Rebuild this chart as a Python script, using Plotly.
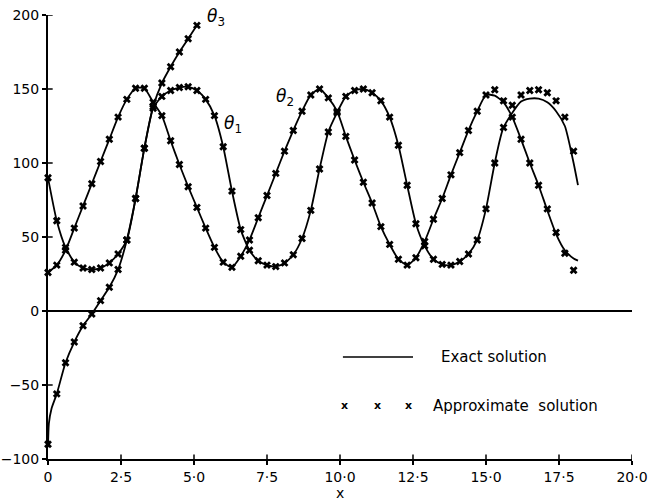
import plotly.graph_objects as go

# ---- data -------------------------------------------------------------
X = [0.0, 0.3, 0.6, 0.9, 1.2, 1.5, 1.8, 2.1, 2.4, 2.7,
     3.0, 3.3, 3.6, 3.9, 4.2, 4.5, 4.8, 5.1, 5.4, 5.7,
     6.0, 6.3, 6.6, 6.9, 7.2, 7.5, 7.8, 8.1, 8.4, 8.7,
     9.0, 9.3, 9.6, 9.9, 10.2, 10.5, 10.8, 11.1, 11.4, 11.7,
     12.0, 12.3, 12.6, 12.9, 13.2, 13.5, 13.8, 14.1, 14.4, 14.7,
     15.0, 15.3, 15.6, 15.9, 16.2, 16.5, 16.8, 17.1, 17.4, 17.7, 18.0]

theta1_approx = [90, 61, 43, 33, 29, 28, 29, 32.5, 38.5, 48,
                 76, 110, 137, 145, 149, 151, 151.5, 149, 143, 132,
                 111, 81, 55, 41, 34, 31, 30, 32.5, 38, 49,
                 68, 96, 121, 134, 145, 149, 150, 147.5, 142, 131,
                 112, 85, 59, 44, 35, 31.5, 31, 33.5, 38.5, 48,
                 69, 100, 124, 139, 146, 149, 149.5, 147.5, 142, 131, 108]

theta2_approx = [26, 31, 41, 56, 71, 86, 101, 116, 131, 143,
                 150.5, 150.5, 141, 132, 115, 99, 84, 70, 56, 43,
                 33, 29.5, 37, 48, 63, 78, 93, 108, 122, 135,
                 146, 150, 144, 135, 118, 102, 87, 73, 57, 45,
                 35, 31, 36, 47, 62, 76, 92, 107, 122, 135,
                 146, 149.5, 142, 131, 116, 100, 85, 69, 53, 39, 27.5]

X3 = [0.0, 0.3, 0.6, 0.9, 1.2, 1.5, 1.8, 2.1, 2.4, 2.7,
      3.0, 3.3, 3.6, 3.9, 4.2, 4.5, 4.8, 5.1]
theta3_approx = [-90, -56, -35, -21, -10, -2, 7, 16, 28, 48,
                 76, 110, 138, 154, 165, 175, 184, 193]

# exact solutions
X1_exact = X[:53] + [16.2, 16.5, 16.8, 17.1, 17.4, 17.7, 18.0, 18.15]
theta1_exact = theta1_approx[:53] + [141.5, 143.5, 143.5, 141, 135, 125, 100, 85]

X2_exact = X[:51] + [15.3, 15.6, 15.9, 16.2, 16.5, 16.8, 17.1, 17.4, 17.7, 18.0, 18.15]
theta2_exact = theta2_approx[:51] + [145.5, 141, 131, 116, 100, 85, 68, 52, 41, 35.5, 34]

X3_exact = [0.0, 0.03, 0.12] + X3[1:]
theta3_exact = [-92, -76, -66] + theta3_approx[1:]

x_ticks = [0, 2.5, 5, 7.5, 10, 12.5, 15, 17.5, 20]
x_tick_text = ["0", "2·5", "5·0", "7·5", "10·0", "12·5", "15·0", "17·5", "20·0"]
y_ticks = [-100, -50, 0, 50, 100, 150, 200]
y_tick_text = ["−100", "−50", "0", "50", "100", "150", "200"]

FONT = "DejaVu Sans"

fig = go.Figure()
line_style = dict(color="black", width=1.8, shape="spline", smoothing=0.6)
mk = dict(symbol="x", size=7, color="black")

for xe, ye in [(X1_exact, theta1_exact), (X2_exact, theta2_exact), (X3_exact, theta3_exact)]:
    fig.add_trace(go.Scatter(x=xe, y=ye, mode="lines", line=line_style,
                             showlegend=False, hoverinfo="skip"))
for xa, ya in [(X, theta1_approx), (X, theta2_approx), (X3, theta3_approx)]:
    fig.add_trace(go.Scatter(x=xa, y=ya, mode="markers", marker=mk,
                             showlegend=False, hoverinfo="skip", cliponaxis=False))

axis_common = dict(showgrid=False, showline=True, linecolor="black", linewidth=2,
                   ticklen=4, tickwidth=1.5, tickcolor="black", automargin=False,
                   ticklabeloverflow="allow",
                   tickfont=dict(family=FONT, size=14, color="black"))

fig.update_layout(
    width=649, height=500,
    margin=dict(l=48, r=17, t=15, b=41),
    paper_bgcolor="white", plot_bgcolor="white",
    xaxis=dict(range=[0, 20], tickvals=x_ticks, ticktext=x_tick_text, ticks="outside",
               zeroline=False, **axis_common),
    yaxis=dict(range=[-100, 200], tickvals=y_ticks, ticktext=y_tick_text, ticks="outside",
               zeroline=True, zerolinecolor="black", zerolinewidth=2,
               **axis_common),
)

# inner halves of the cross-shaped ticks
for v in x_ticks[1:]:
    fig.add_shape(type="line", xref="x", yref="paper", x0=v, x1=v, y0=0, y1=0.01,
                  line=dict(color="black", width=1.5))
for v in y_ticks[1:]:
    fig.add_shape(type="line", xref="paper", yref="y", x0=0, x1=0.008, y0=v, y1=v,
                  line=dict(color="black", width=1.5))

# x axis title
fig.add_annotation(xref="paper", yref="paper", x=0.5, y=-0.077, text="x",
                   showarrow=False, font=dict(family=FONT, size=14, color="black"),
                   xanchor="center", yanchor="middle")

# curve labels
lab_font = dict(family=FONT, size=17, color="black")
for txt, lx, ly in [("<i>θ</i><sub>3</sub>", 5.75, 198),
                    ("<i>θ</i><sub>1</sub>", 6.35, 126),
                    ("<i>θ</i><sub>2</sub>", 8.1, 144)]:
    fig.add_annotation(x=lx, y=ly, text=txt, showarrow=False, font=lab_font,
                       xanchor="center", yanchor="middle")

# legend (drawn by hand)
leg_font = dict(family=FONT, size=15, color="black")
fig.add_shape(type="line", x0=10.1, x1=12.5, y0=-31, y1=-31,
              line=dict(color="black", width=1.5))
fig.add_annotation(x=13.4, y=-31, text="Exact solution", showarrow=False,
                   font=leg_font, xanchor="left", yanchor="middle")
for lx in [10.17, 11.27, 12.36]:
    fig.add_annotation(x=lx, y=-64, text="<b>x</b>", showarrow=False,
                       font=dict(family=FONT, size=11, color="black"),
                       xanchor="center", yanchor="middle")
fig.add_annotation(x=13.1, y=-64, text="Approximate  solution", showarrow=False,
                   font=leg_font, xanchor="left", yanchor="middle")

fig.write_html("out.html", config={"displayModeBar": False},
               post_script="document.body.style.margin='0px';")
